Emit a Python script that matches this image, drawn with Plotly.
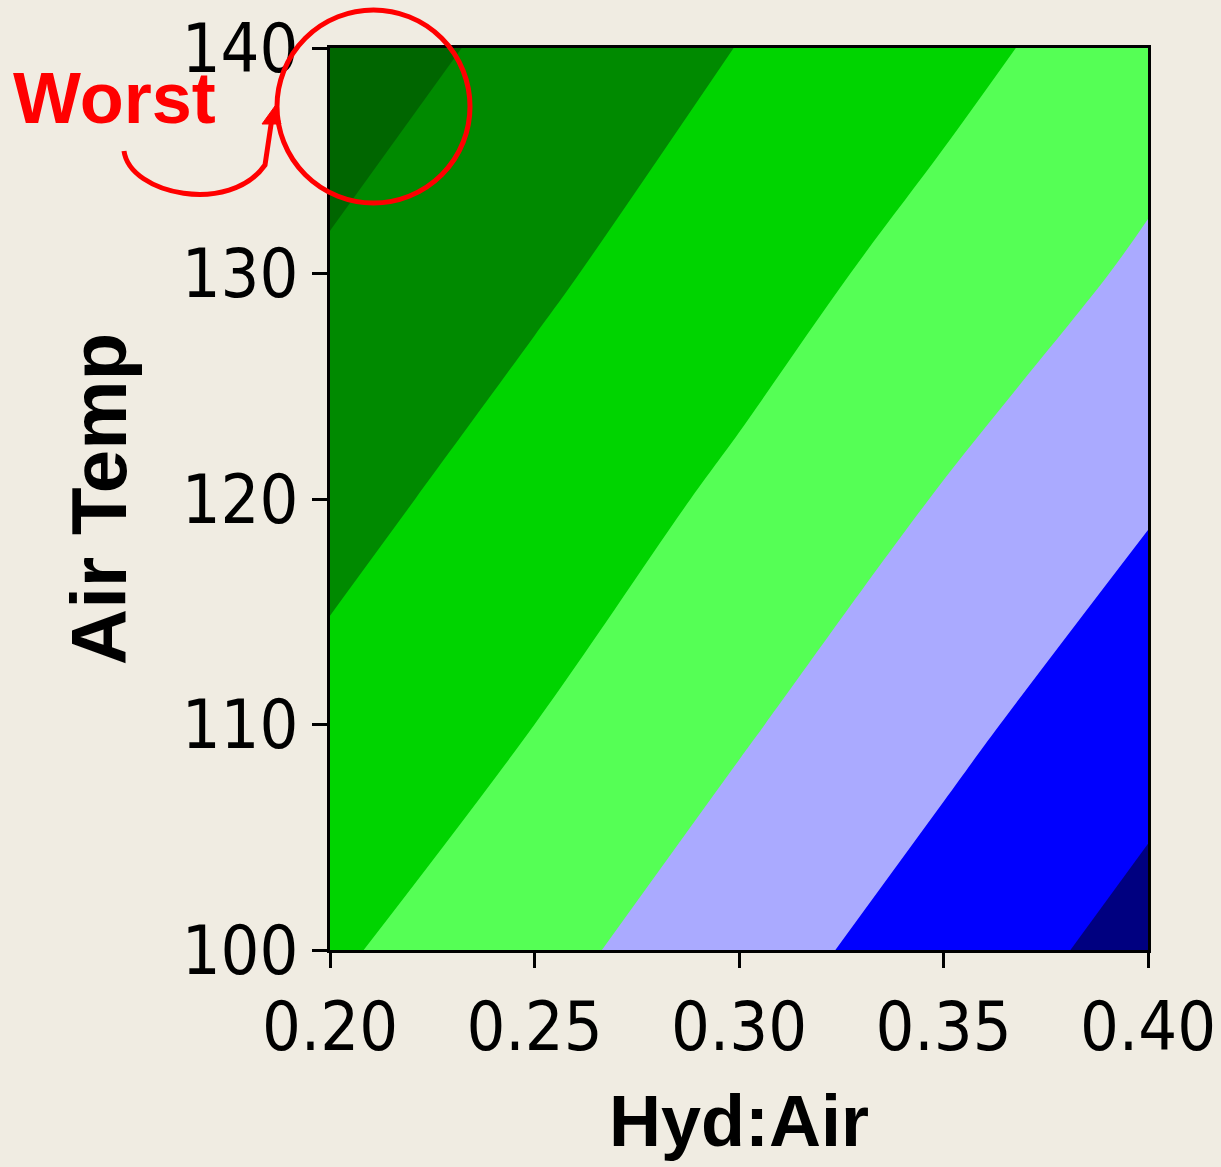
import plotly.graph_objects as go

# Data: estimated response surface values read from the contour bands
hyd_air = [0.20, 0.25, 0.30, 0.35, 0.40]
air_temp = [100, 110, 120, 130, 140]
response = [
    [2.86, 3.71, 4.59, 5.46, 6.33],   # 100
    [2.28, 3.00, 3.89, 4.76, 5.63],   # 110
    [1.70, 2.42, 3.18, 4.06, 4.90],   # 120
    [1.11, 1.84, 2.57, 3.36, 4.15],   # 130
    [0.53, 1.26, 2.02, 2.71, 3.53],   # 140
]
band_colors = ["#006600", "#008A00", "#00D400", "#55FF55", "#AAAAFF", "#0000FF", "#000080"]
x_ticks = [0.20, 0.25, 0.30, 0.35, 0.40]
y_ticks = [100, 110, 120, 130, 140]

W, H = 1221, 1167
L, R, T, B = 330, 73, 48, 217
pw, ph = W - L - R, H - T - B

def px(x):
    return (x - L) / pw

def py(y):
    return (H - B - y) / ph

# stepped colorscale
n = len(band_colors)
cs = []
for i, c in enumerate(band_colors):
    lo = 0 if i == 0 else (2 * i - 1) / (2 * (n - 1))
    hi = 1 if i == n - 1 else (2 * i + 1) / (2 * (n - 1))
    cs.append([lo, c])
    cs.append([hi, c])

fig = go.Figure(go.Contour(
    x=hyd_air, y=air_temp, z=response,
    colorscale=cs, showscale=False,
    contours=dict(coloring="fill", start=1, end=6, size=1, showlines=False),
    line=dict(width=0),
    hoverinfo="skip",
))

bg = "#F0ECE2"
tickfont = dict(family="DejaVu Sans Condensed, Liberation Sans Narrow, sans-serif", size=68, color="black")
xtitlefont = dict(family="Liberation Sans, Arial, sans-serif", size=72, color="black", weight="bold")
ytitlefont = dict(family="Liberation Sans, Arial, sans-serif", size=78, color="black", weight="bold")

fig.update_layout(
    width=W, height=H,
    margin=dict(l=L, r=R, t=T, b=B, pad=0),
    paper_bgcolor=bg, plot_bgcolor=bg,
    showlegend=False,
    xaxis=dict(
        range=[0.2, 0.4], tickvals=x_ticks, ticktext=[f"{v:.2f}" for v in x_ticks],
        ticks="outside", ticklen=15, tickwidth=3, tickcolor="black",
        showline=True, linewidth=3, linecolor="black", mirror=True,
        showgrid=False, zeroline=False, tickfont=tickfont,
        ticklabeloverflow="allow", automargin=False,
        title=dict(text="Hyd:Air", font=xtitlefont, standoff=32),
    ),
    yaxis=dict(
        range=[100, 140], tickvals=y_ticks, ticktext=[str(v) for v in y_ticks],
        ticks="outside", ticklen=15, tickwidth=3, tickcolor="black",
        showline=True, linewidth=3, linecolor="black", mirror=True,
        showgrid=False, zeroline=False, tickfont=tickfont,
        ticklabeloverflow="allow", automargin=False,
        title=dict(text="Air Temp", font=ytitlefont, standoff=30),
    ),
)

red = "#FF0000"
# circle around worst region
fig.add_shape(type="circle", xref="paper", yref="paper",
              x0=px(277), x1=px(470), y0=py(203), y1=py(10),
              line=dict(color=red, width=5))
# curved arrow
path = (f"M {px(124)},{py(151)} "
        f"C {px(130)},{py(195)} {px(230)},{py(215)} {px(265)},{py(165)} "
        f"L {px(272)},{py(118)}")
fig.add_shape(type="path", xref="paper", yref="paper", path=path,
              line=dict(color=red, width=5))
head = (f"M {px(262)},{py(124)} L {px(275)},{py(106)} L {px(281)},{py(124)} Z")
fig.add_shape(type="path", xref="paper", yref="paper", path=head,
              line=dict(color=red, width=1), fillcolor=red)

fig.add_annotation(text="<b>Worst</b>", xref="paper", yref="paper",
                   x=px(114), y=py(98), xanchor="center", yanchor="middle",
                   showarrow=False,
                   font=dict(family="Liberation Sans, Arial, sans-serif", size=72, color=red))

fig.write_html("out.html", config={"displayModeBar": False},
               post_script="document.body.style.margin='0';document.body.style.overflow='hidden';")
